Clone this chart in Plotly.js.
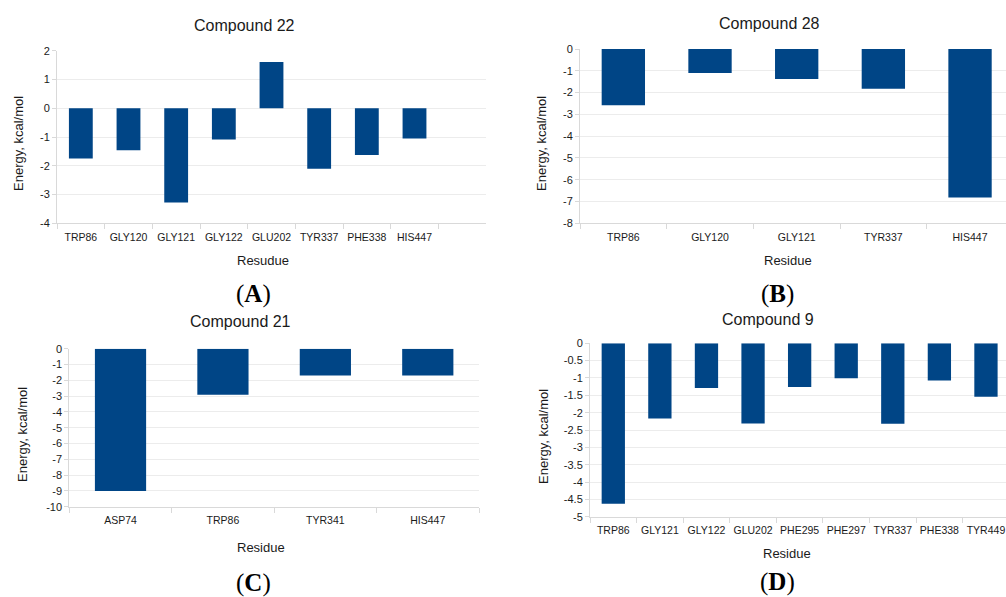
<!DOCTYPE html>
<html>
<head>
<meta charset="utf-8">
<script src="https://cdn.plot.ly/plotly-3.0.1.min.js"></script>
<style>
  html, body { margin: 0; padding: 0; background: #ffffff; }
  #chart { width: 1006px; height: 597px; }
</style>
</head>
<body>
<div id="chart"></div>
<script>
// ---- Data ----
const residuesA = ['TRP86', 'GLY120', 'GLY121', 'GLY122', 'GLU202', 'TYR337', 'PHE338', 'HIS447'];
const energyA   = [-1.75, -1.46, -3.28, -1.09, 1.61, -2.10, -1.63, -1.05];

const residuesB = ['TRP86', 'GLY120', 'GLY121', 'TYR337', 'HIS447'];
const energyB   = [-2.58, -1.10, -1.38, -1.83, -6.82];

const residuesC = ['ASP74', 'TRP86', 'TYR341', 'HIS447'];
const energyC   = [-9.0, -2.91, -1.69, -1.69];

const residuesD = ['TRP86', 'GLY121', 'GLY122', 'GLU202', 'PHE295', 'PHE297', 'TYR337', 'PHE338', 'TYR449'];
const energyD   = [-4.63, -2.17, -1.29, -2.31, -1.26, -1.01, -2.32, -1.07, -1.54];

const yTicksA = [2, 1, 0, -1, -2, -3, -4];
const yTicksB = [0, -1, -2, -3, -4, -5, -6, -7, -8];
const yTicksC = [0, -1, -2, -3, -4, -5, -6, -7, -8, -9, -10];
const yTicksD = [0, -0.5, -1, -1.5, -2, -2.5, -3, -3.5, -4, -4.5, -5];

const titles = ['Compound 22', 'Compound 28', 'Compound 21', 'Compound 9'];
const xTitles = ['Resudue', 'Residue', 'Residue', 'Residue'];
const yTitle = 'Energy, kcal/mol';
const panelLetters = ['A', 'B', 'C', 'D'];

// ---- Styling ----
const BAR = '#004586';
const GRID = '#ececec';
const AXIS = '#d9d9d9';
const TXT = '#1a1a1a';
const FONT = 'Liberation Sans, Arial, sans-serif';
const W = 1006, H = 597;
const px = v => v / W;
const py = v => 1 - v / H;

function bar(x, y, xa, ya) {
  return { type: 'bar', x: x, y: y, xaxis: xa, yaxis: ya,
    marker: { color: BAR, line: { width: 0 } }, showlegend: false, hoverinfo: 'skip' };
}

function xAxis(domain, anchor, range) {
  return { domain: domain, anchor: anchor, type: 'category', range: range,
    showgrid: false, zeroline: false, showline: true, linecolor: AXIS, linewidth: 1,
    ticks: 'outside', tickson: 'boundaries', ticklen: 5, tickcolor: AXIS,
    tickangle: 0, automargin: false, ticklabelstandoff: 4,
    tickfont: { family: FONT, size: 10.5, color: TXT }, fixedrange: true };
}
function yAxis(domain, anchor, range, ticks) {
  return { domain: domain, anchor: anchor, range: range,
    tickmode: 'array', tickvals: ticks, ticktext: ticks.map(v => String(v)),
    showgrid: true, gridcolor: GRID, gridwidth: 1, zeroline: false,
    showline: true, linecolor: AXIS, linewidth: 1,
    ticks: 'outside', ticklen: 4, tickcolor: AXIS, automargin: false,
    tickfont: { family: FONT, size: 11, color: TXT }, fixedrange: true };
}

const data = [
  bar(residuesA, energyA, 'x', 'y'),
  bar(residuesB, energyB, 'x2', 'y2'),
  bar(residuesC, energyC, 'x3', 'y3'),
  bar(residuesD, energyD, 'x4', 'y4')
];

function ann(text, x, y, size, opts) {
  return Object.assign({ text: text, x: px(x), y: py(y), xref: 'paper', yref: 'paper',
    xanchor: 'center', yanchor: 'middle', showarrow: false,
    font: { family: FONT, size: size, color: TXT } }, opts || {});
}

const annotations = [
  // chart titles
  ann(titles[0], 244.5, 25.5, 16),
  ann(titles[1], 769, 24, 16),
  ann(titles[2], 240.5, 321.5, 16),
  ann(titles[3], 768, 319, 16),
  // x-axis titles
  ann(xTitles[0], 262.7, 260.5, 13),
  ann(xTitles[1], 787.8, 260.5, 13),
  ann(xTitles[2], 261.3, 547, 13),
  ann(xTitles[3], 786.7, 553, 13),
  // y-axis titles
  ann(yTitle, 19, 144, 13, { textangle: -90 }),
  ann(yTitle, 542, 144, 13, { textangle: -90 }),
  ann(yTitle, 22, 435, 13, { textangle: -90 }),
  ann(yTitle, 543.5, 436.5, 13, { textangle: -90 }),
];
// panel letters
const letterPos = [[253, 294], [777, 294], [253, 583], [777, 582]];
panelLetters.forEach((L, i) => {
  annotations.push(ann('(<b>' + L + '</b>)', letterPos[i][0], letterPos[i][1], 25,
    { font: { family: 'Liberation Serif, Times New Roman, serif', size: 25, color: '#000' } }));
});

const layout = {
  width: W, height: H,
  margin: { l: 0, r: 0, t: 0, b: 0, pad: 0 },
  paper_bgcolor: '#ffffff', plot_bgcolor: '#ffffff',
  bargap: 0.5,
  showlegend: false,
  xaxis:  xAxis([px(57), px(486)], 'y', [-0.5, 8.5]),
  yaxis:  yAxis([py(223.3), py(50.7)], 'x', [-4, 2], yTicksA),
  xaxis2: xAxis([px(580), 1], 'y2', [-0.5, 4.415]),
  yaxis2: yAxis([py(223.3), py(49)], 'x2', [-8, 0], yTicksB),
  xaxis3: xAxis([px(69.3), px(479)], 'y3', [-0.5, 3.5]),
  yaxis3: yAxis([py(506.7), py(348.7)], 'x3', [-10, 0], yTicksC),
  xaxis4: xAxis([px(590), 1], 'y4', [-0.5, 8.43]),
  yaxis4: yAxis([py(516.7), py(343.3)], 'x4', [-5, 0], yTicksD),
  annotations: annotations
};

Plotly.newPlot('chart', data, layout, { staticPlot: true, displayModeBar: false });
</script>
</body>
</html>
